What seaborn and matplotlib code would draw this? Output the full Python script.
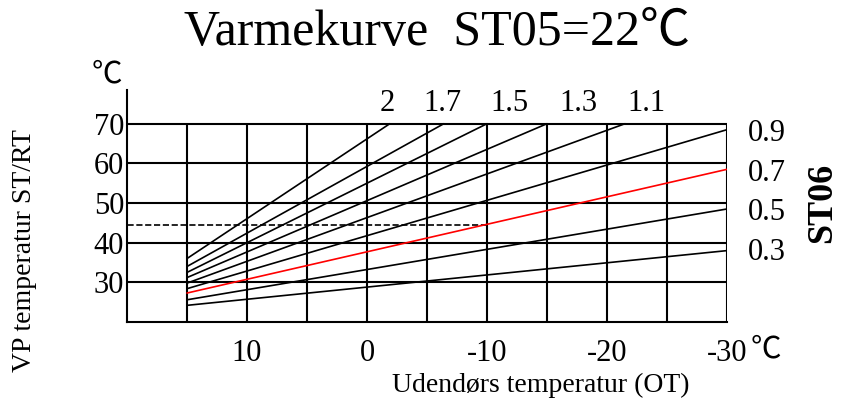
import pandas as pd
import seaborn as sns
import matplotlib.pyplot as plt

# Varmekurver: start ved OT=15, slutpunkt hvor kurven forlader diagrammet
KURVER = ['2', '1.7', '1.5', '1.3', '1.1', '0.9', '0.7', '0.5', '0.3']
START_OT = [15, 15, 15, 15, 15, 15, 15, 15, 15]
START_TEMP = [36.0, 34.0, 32.5, 31.2, 29.8, 28.4, 27.3, 25.6, 24.2]
SLUT_OT = [-1.9, -6.4, -10.0, -15.0, -21.5, -30, -30, -30, -30]
SLUT_TEMP = [70, 70, 70, 70, 70, 68.5, 58.5, 48.5, 38.0]
VALGT_KURVE = '0.7'

# stiplet hjælpelinje ved OT=-10
STIPLET_OT = [20, -10]
STIPLET_TEMP = [44.5, 44.5]

X_TICKS = [10, 0, -10, -20, -30]
X_LABELS = ['10', '0', '-10', '-20', '-30']
X_GRID = [15, 10, 5, 0, -5, -10, -15, -20, -25, -30]
Y_TICKS = [30, 40, 50, 60, 70]

TOP_LABELS = ['2', '1.7', '1.5', '1.3', '1.1']
TOP_LABEL_X = [-1.7, -6.25, -11.9, -17.6, -23.3]
RIGHT_LABELS = ['0.9', '0.7', '0.5', '0.3']
RIGHT_LABEL_Y = [67.6, 57.4, 47.6, 37.6]

sns.set_theme(style="white")
plt.rcParams['font.family'] = ['Liberation Serif', 'Noto Sans CJK SC', 'DejaVu Serif']
plt.rcParams['text.color'] = 'black'
plt.rcParams['axes.labelcolor'] = 'black'

rows = []
for k, x0, y0, x1, y1 in zip(KURVER, START_OT, START_TEMP, SLUT_OT, SLUT_TEMP):
    rows.append({'kurve': k, 'OT': x0, 'temp': y0})
    rows.append({'kurve': k, 'OT': x1, 'temp': y1})
df = pd.DataFrame(rows)
palette = {k: ('red' if k == VALGT_KURVE else 'black') for k in KURVER}

fig = plt.figure(figsize=(8.42, 4.03), dpi=100)
ax = fig.add_axes([127 / 842, 81 / 403, 600 / 842, 232 / 403])

# gitter
ax.vlines(X_GRID, 20, 70, color='black', linewidth=1.5, zorder=1)
ax.hlines(Y_TICKS, 20, -30, color='black', linewidth=1.5, zorder=1)

sns.lineplot(data=df, x='OT', y='temp', hue='kurve', hue_order=KURVER,
             palette=palette, legend=False, linewidth=1.2, ax=ax, zorder=3)
sns.lineplot(x=STIPLET_OT, y=STIPLET_TEMP, color='black', linestyle='--',
             linewidth=1.2, ax=ax, zorder=2)

ax.set_xlim(20, -30)
ax.set_ylim(20, 78.5)
ax.set_xticks(X_TICKS)
ax.set_xticklabels(X_LABELS, fontsize=22)
ax.set_yticks(Y_TICKS)
ax.set_yticklabels([str(v) for v in Y_TICKS], fontsize=22)
ax.tick_params(axis='both', length=0, colors='black', labelcolor='black')
ax.tick_params(axis='x', pad=12)
ax.tick_params(axis='y', pad=2)

for side in ['top', 'right']:
    ax.spines[side].set_visible(False)
for side in ['left', 'bottom']:
    ax.spines[side].set_color('black')
    ax.spines[side].set_linewidth(1.5)

ax.set_xlabel('Udendørs temperatur (OT)', fontsize=20)
ax.xaxis.set_label_coords(0.69, -0.272)
ax.xaxis.label.set_va('center')
ax.set_ylabel('VP temperatur ST/RT', fontsize=20)
ax.yaxis.set_label_coords(-0.17, 0.31)
ax.yaxis.label.set_va('center')

for lab, x in zip(TOP_LABELS, TOP_LABEL_X):
    ax.text(x, 75, lab, fontsize=22, ha='center', va='center', clip_on=False)
for lab, y in zip(RIGHT_LABELS, RIGHT_LABEL_Y):
    ax.text(-31.75, y, lab, fontsize=22, ha='left', va='center', clip_on=False)

ax.text(1.16, 0.513, 'ST06', fontsize=26, fontweight='bold', rotation=90,
        ha='center', va='center', transform=ax.transAxes)
ax.text(-0.033, 1.065, '℃', fontsize=22, ha='center', va='center',
        transform=ax.transAxes)
ax.text(-33.2, -0.1207, '℃', fontsize=22, ha='center', va='center',
        transform=ax.get_xaxis_transform())

fig.text(437 / 842, 1 - 33 / 403, 'Varmekurve  ST05=22℃', fontsize=36,
         ha='center', va='center')

fig.savefig('out.png', dpi=100, facecolor='white')
